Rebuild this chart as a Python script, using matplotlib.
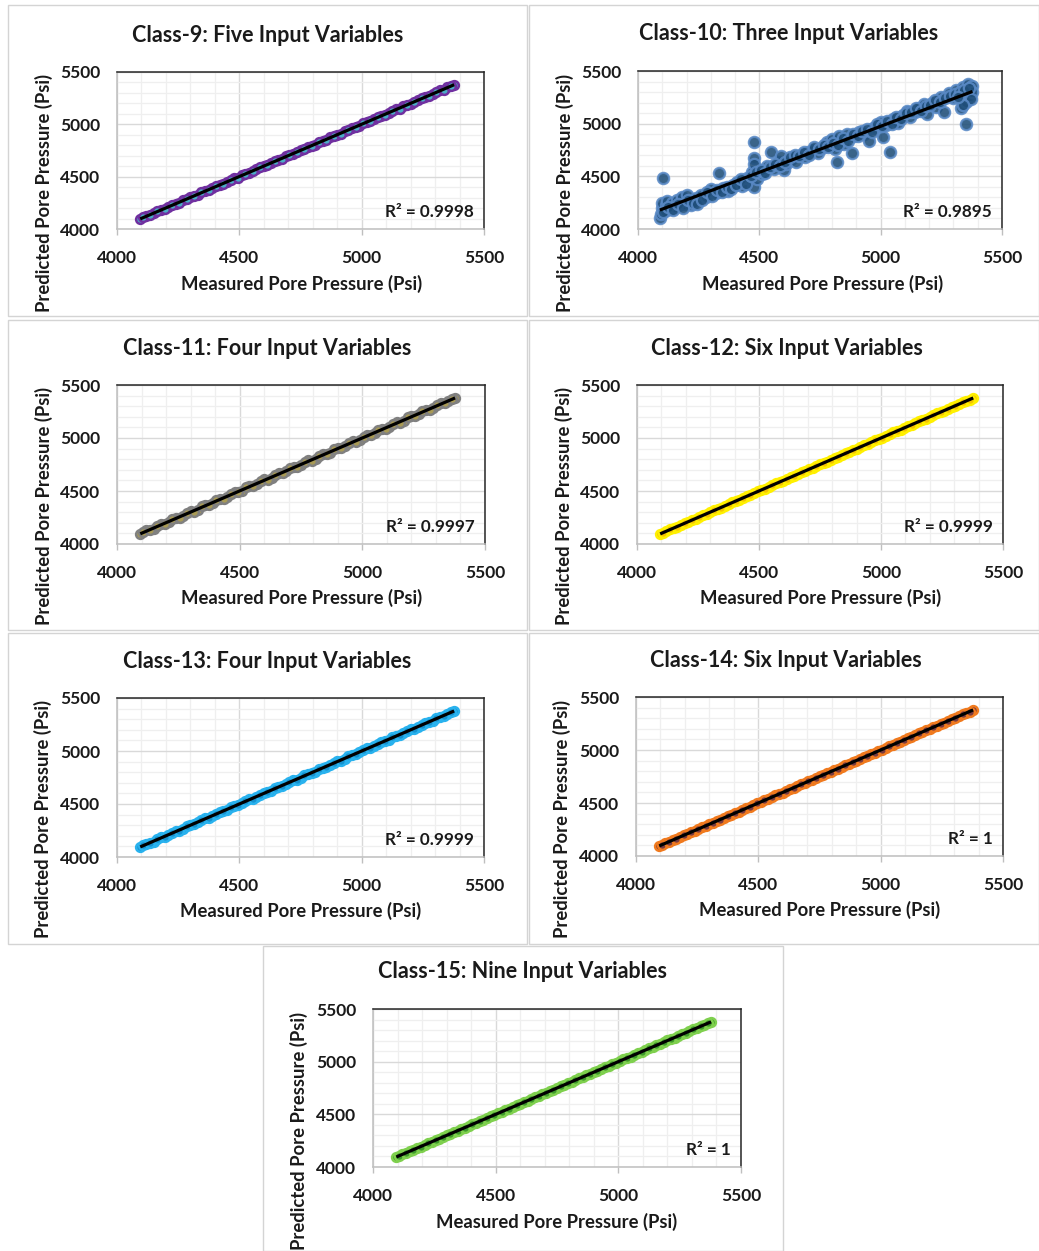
import numpy as np
import matplotlib
matplotlib.use("Agg")
import matplotlib.pyplot as plt
from matplotlib.patches import Rectangle
from matplotlib.ticker import MultipleLocator

plt.rcParams['font.family'] = ['Lato', 'DejaVu Sans']

W, H = 1039, 1251

# ---------------- data ----------------
measured = [4095, 4120, 4150, 4180, 4210, 4240, 4270, 4300, 4330, 4360, 4390, 4420,
            4450, 4480, 4510, 4540, 4570, 4600, 4630, 4660, 4690, 4720, 4750, 4780,
            4810, 4840, 4870, 4900, 4930, 4960, 4990, 5020, 5050, 5080, 5110, 5140,
            5170, 5200, 5230, 5260, 5290, 5320, 5350, 5378,
            4108, 4135, 4165, 4195, 4225, 4255, 4285, 4315, 4345, 4375, 4405, 4435,
            4465, 4495, 4525, 4555, 4585, 4615, 4645, 4675, 4705, 4735, 4765, 4795,
            4825, 4855, 4885, 4915, 4945, 4975, 5005, 5035, 5065, 5095, 5125, 5155,
            5185, 5215, 5245, 5275, 5305, 5335, 5364]

pred_c9 = [4100, 4128, 4152, 4186, 4212, 4235, 4278, 4306, 4326, 4362, 4395, 4418,
           4446, 4487, 4515, 4536, 4574, 4606, 4628, 4664, 4695, 4716, 4756, 4784,
           4806, 4844, 4877, 4896, 4934, 4962, 4986, 5026, 5048, 5084, 5106, 5146,
           5172, 5196, 5234, 5262, 5286, 5324, 5352, 5380,
           4112, 4131, 4170, 4191, 4229, 4251, 4289, 4311, 4349, 4371, 4409, 4431,
           4469, 4491, 4529, 4551, 4589, 4611, 4649, 4671, 4709, 4731, 4769, 4791,
           4829, 4851, 4889, 4911, 4949, 4971, 5009, 5031, 5069, 5091, 5129, 5151,
           5189, 5211, 5249, 5271, 5309, 5331, 5368]
pred_c11 = [4092, 4132, 4144, 4190, 4204, 4250, 4262, 4310, 4324, 4368, 4384, 4428,
            4444, 4488, 4502, 4548, 4564, 4610, 4622, 4668, 4684, 4728, 4744, 4790,
            4802, 4848, 4862, 4908, 4924, 4968, 4982, 5028, 5044, 5088, 5102, 5148,
            5164, 5208, 5224, 5266, 5284, 5326, 5346, 5376,
            4116, 4128, 4174, 4188, 4234, 4246, 4294, 4306, 4354, 4366, 4414, 4426,
            4474, 4486, 4534, 4546, 4594, 4606, 4654, 4666, 4714, 4726, 4774, 4786,
            4834, 4846, 4894, 4906, 4954, 4966, 5014, 5026, 5074, 5086, 5134, 5146,
            5194, 5206, 5254, 5266, 5314, 5326, 5370]
pred_c12 = [4098, 4122, 4153, 4178, 4212, 4238, 4273, 4298, 4333, 4358, 4392, 4418,
            4453, 4478, 4512, 4538, 4573, 4598, 4632, 4658, 4693, 4718, 4752, 4778,
            4813, 4838, 4872, 4898, 4933, 4958, 4992, 5018, 5053, 5078, 5112, 5138,
            5173, 5198, 5232, 5258, 5293, 5318, 5352, 5376,
            4106, 4137, 4163, 4197, 4223, 4257, 4283, 4317, 4343, 4377, 4403, 4437,
            4463, 4497, 4523, 4557, 4583, 4617, 4643, 4677, 4703, 4737, 4763, 4797,
            4823, 4857, 4883, 4917, 4943, 4977, 5003, 5037, 5063, 5097, 5123, 5157,
            5183, 5217, 5243, 5277, 5303, 5337, 5362]
pred_c13 = [4094, 4126, 4146, 4184, 4206, 4244, 4266, 4304, 4326, 4364, 4386, 4424,
            4446, 4484, 4506, 4544, 4566, 4604, 4626, 4664, 4686, 4724, 4746, 4784,
            4806, 4844, 4866, 4904, 4926, 4964, 4986, 5024, 5046, 5084, 5106, 5144,
            5166, 5204, 5226, 5264, 5286, 5324, 5346, 5380,
            4111, 4132, 4169, 4190, 4229, 4250, 4289, 4310, 4349, 4370, 4409, 4430,
            4469, 4490, 4529, 4550, 4589, 4610, 4649, 4670, 4709, 4730, 4769, 4790,
            4829, 4850, 4889, 4910, 4949, 4970, 5009, 5030, 5069, 5090, 5129, 5150,
            5189, 5210, 5249, 5270, 5309, 5330, 5366]
pred_c14 = [4096, 4121, 4151, 4179, 4211, 4239, 4271, 4299, 4331, 4359, 4391, 4419,
            4451, 4479, 4511, 4539, 4571, 4599, 4631, 4659, 4691, 4719, 4751, 4779,
            4811, 4839, 4871, 4899, 4931, 4959, 4991, 5019, 5051, 5079, 5111, 5139,
            5171, 5199, 5231, 5259, 5291, 5319, 5351, 5377,
            4107, 4136, 4164, 4196, 4224, 4256, 4284, 4316, 4344, 4376, 4404, 4436,
            4464, 4496, 4524, 4556, 4584, 4616, 4644, 4676, 4704, 4736, 4764, 4796,
            4824, 4856, 4884, 4916, 4944, 4976, 5004, 5036, 5064, 5096, 5124, 5156,
            5184, 5216, 5244, 5276, 5304, 5336, 5363]
pred_c15 = [4095, 4121, 4149, 4181, 4209, 4241, 4269, 4301, 4329, 4361, 4389, 4421,
            4449, 4481, 4509, 4541, 4569, 4601, 4629, 4661, 4689, 4721, 4749, 4781,
            4809, 4841, 4869, 4901, 4929, 4961, 4989, 5021, 5049, 5081, 5109, 5141,
            5169, 5201, 5229, 5261, 5289, 5321, 5349, 5379,
            4109, 4134, 4166, 4194, 4226, 4254, 4286, 4314, 4346, 4374, 4406, 4434,
            4466, 4494, 4526, 4554, 4586, 4614, 4646, 4674, 4706, 4734, 4766, 4794,
            4826, 4854, 4886, 4914, 4946, 4974, 5006, 5034, 5066, 5094, 5126, 5154,
            5186, 5214, 5246, 5274, 5306, 5334, 5365]

c10_measured = [4090, 4095, 4100, 4100, 4105, 4110, 4115, 4120, 4130, 4140, 4150, 4160,
                4170, 4180, 4190, 4200, 4210, 4220, 4240, 4260, 4280, 4300, 4320, 4335,
                4350, 4370, 4390, 4410, 4430, 4450, 4470, 4480, 4480, 4480, 4480, 4490,
                4510, 4530, 4550, 4560, 4580, 4590, 4600, 4610, 4630, 4650, 4670, 4690,
                4700, 4720, 4740, 4760, 4780, 4790, 4800, 4810, 4820, 4830, 4850, 4860,
                4880, 4890, 4910, 4930, 4950, 4970, 4990, 5000, 5010, 5020, 5040, 5050,
                5070, 5090, 5110, 5120, 5140, 5160, 5180, 5190, 5210, 5230, 5250, 5260,
                5280, 5300, 5310, 5330, 5340, 5350, 5350, 5355, 5360, 5365, 5370, 5375,
                5378,
                4105, 4125, 4145, 4165, 4185, 4205, 4225, 4245, 4265, 4285, 4305, 4325,
                4345, 4365, 4385, 4405, 4425, 4445, 4465, 4485, 4505, 4525, 4545, 4565,
                4585, 4605, 4625, 4645, 4665, 4685, 4705, 4725, 4745, 4765, 4785, 4805,
                4825, 4845, 4865, 4885, 4905, 4925, 4945, 4965, 4985, 5005, 5025, 5045,
                5065, 5085, 5105, 5125, 5145, 5165, 5185, 5205, 5225, 5245, 5265, 5285,
                5305, 5325, 5345, 5365, 5372, 5340, 5320]
c10_predicted = [4100, 4140, 4200, 4250, 4480, 4170, 4230, 4270, 4190, 4250, 4210, 4280,
                 4230, 4300, 4240, 4320, 4260, 4230, 4290, 4320, 4300, 4380, 4340, 4530,
                 4390, 4360, 4420, 4450, 4410, 4480, 4540, 4830, 4670, 4620, 4400, 4470,
                 4520, 4600, 4730, 4570, 4640, 4690, 4560, 4620, 4660, 4640, 4700, 4680,
                 4730, 4750, 4720, 4770, 4830, 4790, 4850, 4760, 4640, 4880, 4810, 4900,
                 4720, 4880, 4920, 4900, 4840, 4960, 4980, 5020, 4870, 4990, 4730, 5040,
                 5010, 5080, 5120, 5060, 5110, 5150, 5190, 5090, 5200, 5160, 5250, 5110,
                 5290, 5240, 5320, 5150, 5350, 5000, 5210, 5280, 5380, 5330, 5260, 5360,
                 5300,
                 4160, 4210, 4180, 4240, 4200, 4280, 4250, 4240, 4280, 4350, 4310, 4370,
                 4350, 4400, 4380, 4420, 4470, 4430, 4500, 4540, 4560, 4530, 4590, 4620,
                 4600, 4640, 4680, 4700, 4690, 4730, 4700, 4780, 4760, 4800, 4780, 4820,
                 4800, 4860, 4840, 4900, 4880, 4930, 4950, 4920, 5000, 4980, 5030, 5000,
                 5060, 5040, 5100, 5110, 5150, 5120, 5170, 5180, 5220, 5210, 5240, 5260,
                 5280, 5300, 5320, 5340, 5230, 5180, 5250]

titles = ["Class-9: Five Input Variables", "Class-10: Three Input Variables",
          "Class-11: Four Input Variables", "Class-12: Six Input Variables",
          "Class-13: Four Input Variables", "Class-14: Six Input Variables",
          "Class-15: Nine Input Variables"]
r2_labels = ["R² = 0.9998", "R² = 0.9895", "R² = 0.9997", "R² = 0.9999",
             "R² = 0.9999", "R² = 1", "R² = 1"]
ticks = [4000, 4500, 5000, 5500]

series_x = [measured, c10_measured, measured, measured, measured, measured, measured]
series_y = [pred_c9, c10_predicted, pred_c11, pred_c12, pred_c13, pred_c14, pred_c15]

face_colors = ['#4BACC6', '#1F4E79', '#A89A55', '#F5C400', '#1592CF', '#7A3B3F', '#3E9A2A']
edge_colors = ['#7030A0', '#5A8AC6', '#808080', '#FFF000', '#29B2EE', '#F07A1E', '#7FD04E']

# ---------------- layout (pixels) ----------------
panel_boxes = [(8, 5, 527, 316), (529, 5, 1039, 316),
               (8, 320, 527, 630), (529, 320, 1039, 630),
               (8, 633, 527, 944), (529, 633, 1039, 944),
               (263, 946, 783, 1251)]
axes_boxes = [(117, 72, 484, 229), (638, 71, 1002, 229),
              (117, 385, 485, 544), (637, 385, 1003, 544),
              (117, 698, 484, 857), (636, 697, 1003, 856),
              (373, 1009, 741, 1167)]
title_pos = [(268, 35), (789, 34), (267, 348), (787, 348), (267, 661), (786, 660), (523, 972)]
xlabel_pos = [(302, 284), (823, 284), (302, 598), (821, 598), (301, 911), (820, 910), (557, 1222)]
ylabel_pos = [(44, 193), (565, 193), (44, 506), (564, 506), (43, 819), (562, 819), (299, 1131)]

fig = plt.figure(figsize=(W / 100, H / 100), dpi=100)


def fx(x):
    return x / W


def fy(y):
    return 1 - y / H


for (x0, y0, x1, y1) in panel_boxes:
    fig.add_artist(Rectangle((fx(x0), fy(y1)), fx(x1) - fx(x0), fy(y0) - fy(y1),
                             transform=fig.transFigure, fill=False,
                             edgecolor='#D4D4D4', linewidth=1.0))

for i in range(7):
    x0, y0, x1, y1 = axes_boxes[i]
    ax = fig.add_axes([fx(x0), fy(y1), fx(x1) - fx(x0), fy(y0) - fy(y1)])
    ax.set_xlim(4000, 5500)
    ax.set_ylim(4000, 5500)
    ax.set_xticks(ticks)
    ax.set_yticks(ticks)
    ax.xaxis.set_minor_locator(MultipleLocator(100))
    ax.yaxis.set_minor_locator(MultipleLocator(100))
    ax.grid(which='major', color='#D9D9D9', linewidth=1.0, zorder=0)
    ax.grid(which='minor', color='#EFEFEF', linewidth=0.9, zorder=0)
    ax.set_axisbelow(True)
    ax.tick_params(axis='both', which='minor', length=0)
    ax.tick_params(axis='x', which='major', length=4, color='#BFBFBF', width=1,
                   pad=11, labelsize=12.5)
    ax.tick_params(axis='y', which='major', length=0, pad=12, labelsize=12.5)
    for lab in ax.get_xticklabels() + ax.get_yticklabels():
        lab.set_fontweight('bold')
        lab.set_color('#1A1A1A')
    ax.spines['left'].set_color('#BFBFBF')
    ax.spines['bottom'].set_color('#BFBFBF')
    ax.spines['top'].set_color('#262626')
    ax.spines['right'].set_color('#262626')
    for s in ax.spines.values():
        s.set_linewidth(1.1)

    xs = np.array(series_x[i], dtype=float)
    ys = np.array(series_y[i], dtype=float)
    if i == 1:
        ax.scatter(xs, ys, s=66, c=face_colors[i], edgecolors=edge_colors[i],
                   linewidths=1.6, alpha=0.88, zorder=3)
    else:
        ax.scatter(xs, ys, s=40, c=face_colors[i], edgecolors=edge_colors[i],
                   linewidths=1.8, zorder=3)
    coef = np.polyfit(xs, ys, 1)
    xl = np.array([xs.min(), xs.max()])
    ax.plot(xl, np.polyval(coef, xl), color='black', linewidth=2.3, zorder=4,
            solid_capstyle='butt')

    ax.text(0.972, 0.108, r2_labels[i], transform=ax.transAxes, ha='right',
            va='center', fontsize=12.3, fontweight='bold', color='#1A1A1A', zorder=5)

    tx, ty = title_pos[i]
    fig.text(fx(tx), fy(ty), titles[i], ha='center', va='center', fontsize=15.5,
             fontweight='bold', color='#1A1A1A')
    lx, ly = xlabel_pos[i]
    fig.text(fx(lx), fy(ly), "Measured Pore Pressure (Psi)", ha='center', va='center',
             fontsize=13.3, fontweight='bold', color='#1A1A1A')
    yx, yy = ylabel_pos[i]
    fig.text(fx(yx), fy(yy), "Predicted Pore Pressure (Psi)", ha='center', va='center',
             rotation=90, fontsize=13.3, fontweight='bold', color='#1A1A1A')

fig.savefig("out.png", dpi=100, facecolor='white')
